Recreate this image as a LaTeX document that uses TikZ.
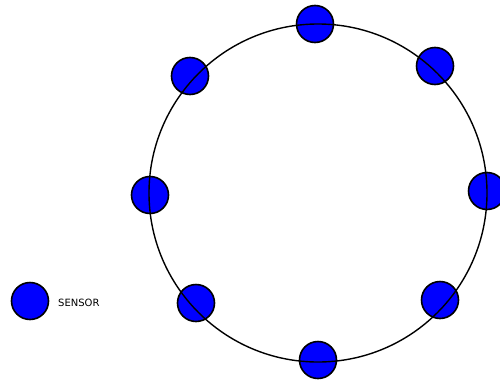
\documentclass[tikz,border=0pt]{standalone}
\usepackage{fontspec}
\setmainfont{DejaVu Sans}
\usepackage{tikz}

\begin{document}
\begin{tikzpicture}[
    x=1pt, y=-1pt,
    sensor/.style={circle, draw=black, line width=1.6pt, fill=blue, minimum size=37pt, inner sep=0pt},
    ring/.style={circle, draw=black, line width=1.4pt, minimum size=338pt, inner sep=0pt},
    legende/.style={font=\fontsize{10pt}{12pt}\selectfont, anchor=west, inner sep=0pt},
  ]
  \useasboundingbox (0,0) rectangle (500,383);
  % les capteurs
  \node[sensor] (s1) at (315,24) {};
  \node[sensor] (s2) at (435,66) {};
  \node[sensor] (s3) at (487,191) {};
  \node[sensor] (s4) at (440,300) {};
  \node[sensor] (s5) at (318,360) {};
  \node[sensor] (s6) at (196,303) {};
  \node[sensor] (s7) at (150,195) {};
  \node[sensor] (s8) at (190,76) {};
  % le cercle par-dessus
  \node[ring] (anneau) at (318,193) {};
  % legende
  \node[sensor] (cle) at (30,301) {};
  \node[legende] (cletexte) at (58,303) {SENSOR};
\end{tikzpicture}
\end{document}
